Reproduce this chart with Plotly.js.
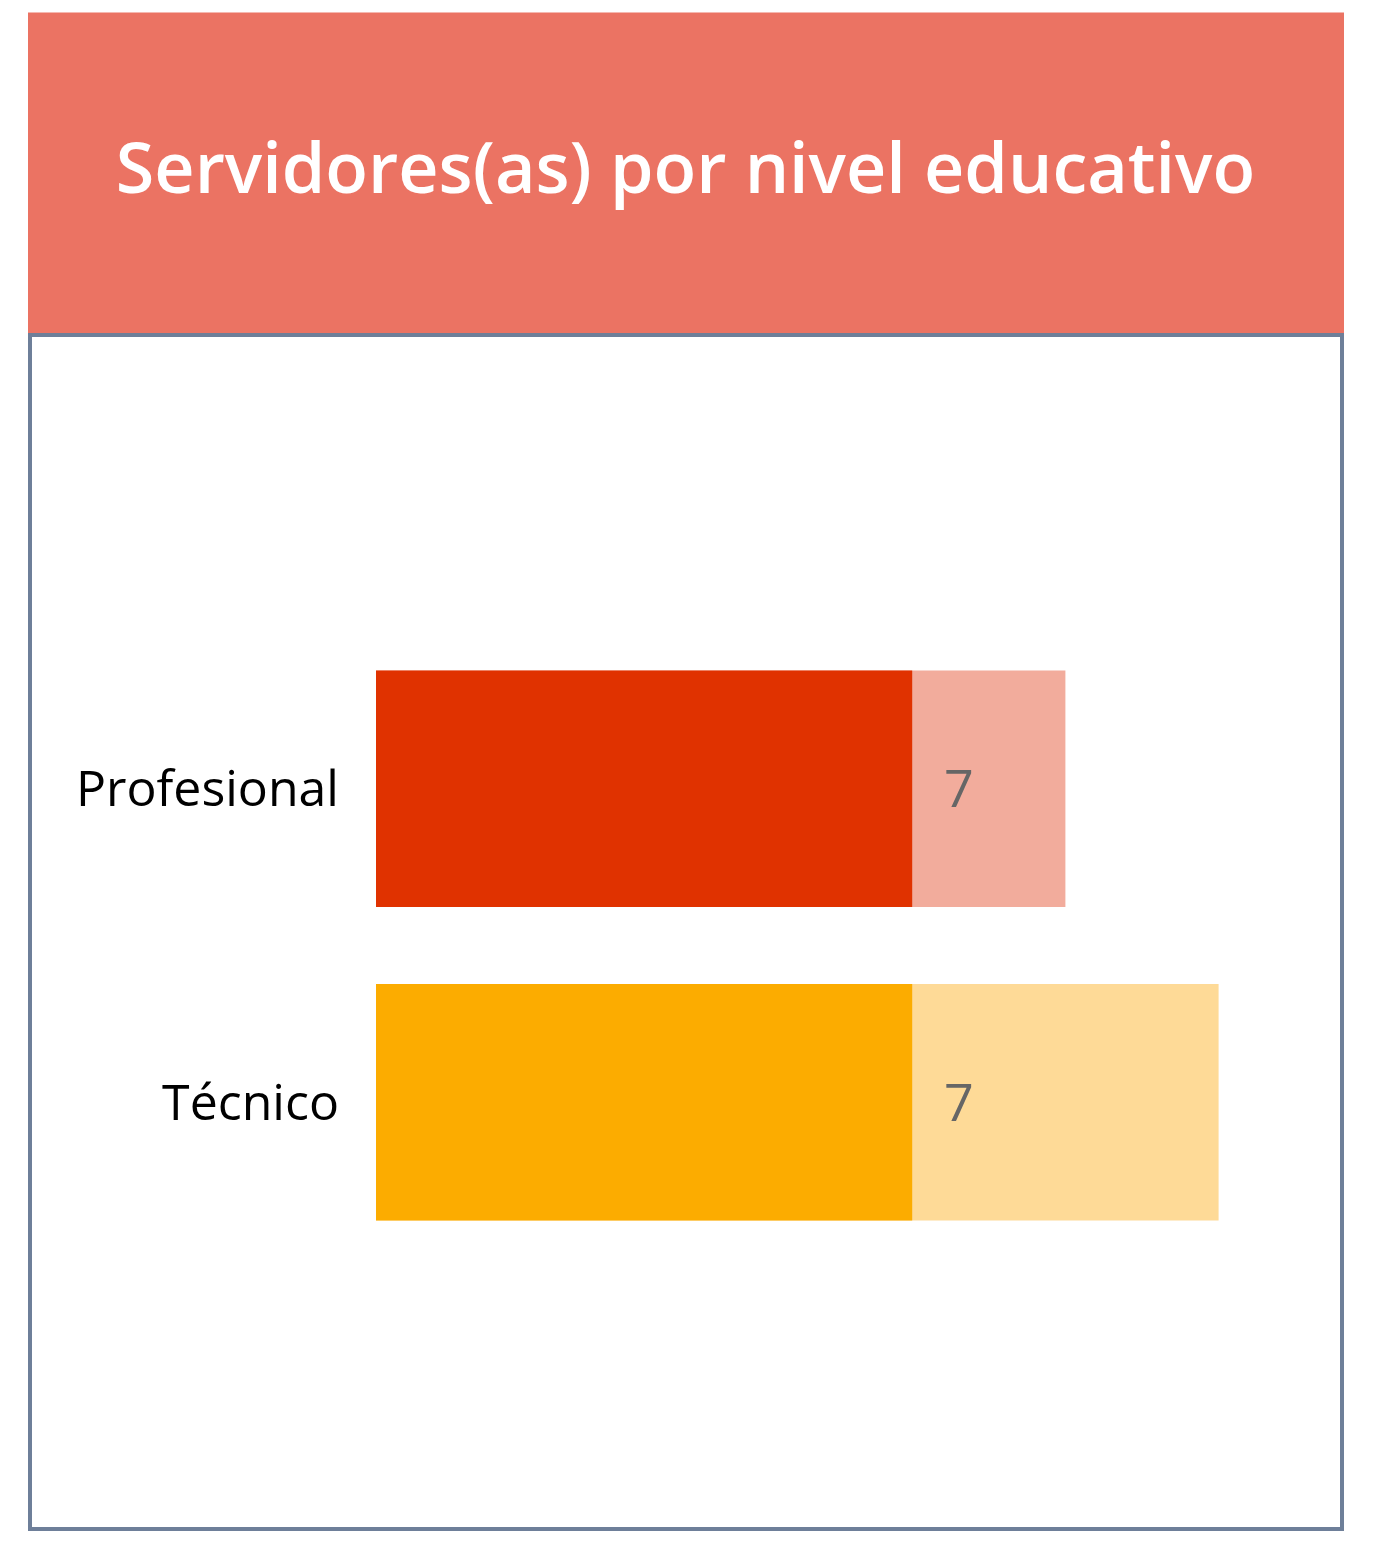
<!DOCTYPE html>
<html>
<head>
<meta charset="utf-8">
<script src="https://cdn.plot.ly/plotly-3.0.1.min.js"></script>
<style>html,body{margin:0;padding:0;background:#fff;}#chart{width:1382px;height:1542px;}</style>
</head>
<body>
<div id="chart"></div>
<script>
const categories = ["Profesional", "Técnico"];
const values = [7, 7];
const totals = [9, 11];
const darkColors = ["#E03200", "#FCAC00"];
const lightColors = ["#F2AC9C", "#FEDA97"];
const titleText = "Servidores(as) por nivel educativo";

const W = 1382, H = 1542;
const L = 376, R = 1333, T = 631.5, B = 1259.5;
const pw = R - L, ph = B - T;
const px = v => (v - L) / pw;
const py = v => (B - v) / ph;

const traces = [
  {type: "bar", orientation: "h", y: categories, x: totals,
   marker: {color: lightColors}, width: 0.755, hoverinfo: "skip"},
  {type: "bar", orientation: "h", y: categories, x: values,
   marker: {color: darkColors}, width: 0.755, hoverinfo: "skip"}
];

const annotations = categories.map((c, i) => ({
  x: values[i], y: c, xref: "x", yref: "y", text: String(values[i]),
  showarrow: false, xanchor: "left", yanchor: "middle", xshift: 30, yshift: 2,
  font: {family: "Open Sans, sans-serif", size: 52, color: "#666666"}
}));

const layout = {
  width: W, height: H,
  margin: {l: L, r: W - R, t: T, b: H - B, pad: 0},
  paper_bgcolor: "#ffffff", plot_bgcolor: "rgba(0,0,0,0)",
  barmode: "overlay", showlegend: false,
  title: {text: titleText, x: 0.496, xref: "container", xanchor: "center",
          y: (H - 168) / H, yref: "container", yanchor: "middle",
          font: {family: "Open Sans, sans-serif", size: 70, weight: 600, color: "#ffffff"}},
  xaxis: {range: [0, (R - L) / 76.6], visible: false, fixedrange: true},
  yaxis: {autorange: "reversed", showgrid: false, zeroline: false, showline: false,
          ticks: "", ticklabelstandoff: 36, fixedrange: true,
          tickfont: {family: "Open Sans, sans-serif", size: 50, color: "#000000"}},
  annotations: annotations,
  shapes: [
    {type: "rect", xref: "paper", yref: "paper", layer: "below",
     x0: px(28), x1: px(1344), y0: py(11), y1: py(333),
     fillcolor: "#EB7363", line: {width: 0}},
    {type: "rect", xref: "paper", yref: "paper", layer: "below",
     x0: px(30), x1: px(1342), y0: py(334), y1: py(1530),
     fillcolor: "rgba(0,0,0,0)", line: {width: 4, color: "#6E7F99"}}
  ]
};

Plotly.newPlot("chart", traces, layout, {displayModeBar: false, staticPlot: true});
</script>
</body>
</html>
